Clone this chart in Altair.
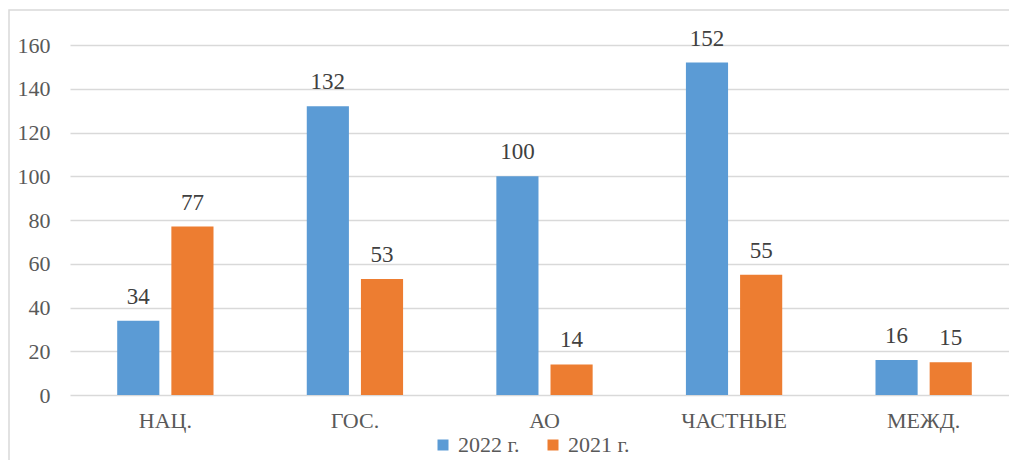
import altair as alt
import pandas as pd

categories = ["НАЦ.", "ГОС.", "АО", "ЧАСТНЫЕ", "МЕЖД."]
series_names = ["2022 г.", "2021 г."]
values_2022 = [34, 132, 100, 152, 16]
values_2021 = [77, 53, 14, 55, 15]
series_colors = ["#5B9BD5", "#ED7D31"]
y_ticks = [0, 20, 40, 60, 80, 100, 120, 140, 160]

rows = []
for c, a, b in zip(categories, values_2022, values_2021):
    rows.append({"cat": c, "series": series_names[0], "value": a})
    rows.append({"cat": c, "series": series_names[1], "value": b})
df = pd.DataFrame(rows)

FONT = "Liberation Serif"

x_enc = alt.X("cat:N", sort=categories, title=None,
              scale=alt.Scale(paddingInner=0.492, paddingOuter=0.249, range=[0, 949]),
              axis=alt.Axis(labelAngle=0, labelFont=FONT, labelFontSize=22,
                            labelColor="#595959", ticks=False, domain=False,
                            labelPadding=15, grid=False))
xoff = alt.XOffset("series:N", sort=series_names,
                   scale=alt.Scale(paddingInner=0.222, paddingOuter=0))
y_enc = alt.Y("value:Q", title=None,
              scale=alt.Scale(domain=[0, 160], nice=False),
              axis=alt.Axis(values=y_ticks, labelFont=FONT, labelFontSize=22,
                            labelColor="#595959", ticks=False, domain=False,
                            labelPadding=20, gridColor="#D9D9D9", gridWidth=1.5))

base = alt.Chart(df)

bars = base.mark_bar().encode(
    x=x_enc, xOffset=xoff, y=y_enc,
    color=alt.Color("series:N", sort=series_names,
                    scale=alt.Scale(domain=series_names, range=series_colors),
                    legend=alt.Legend(title=None, orient="none", direction="horizontal",
                                      legendX=362, legendY=389,
                                      symbolType="square", symbolSize=121,
                                      symbolStrokeWidth=0, labelFont=FONT,
                                      labelFontSize=22, labelColor="#595959",
                                      columnPadding=22, symbolOffset=0,
                                      labelOffset=4)),
)

labels = base.mark_text(font=FONT, fontSize=23, color="#404040",
                        baseline="alphabetic", dy=-17).encode(
    x=alt.X("cat:N", sort=categories), xOffset=alt.XOffset("series:N", sort=series_names),
    y="value:Q", text="value:Q",
)

frame = alt.Chart(alt.Data(values=[{}])).mark_rect(
    fill=None, stroke="#D9D9D9", strokeWidth=1.5
).encode(x=alt.value(-61), x2=alt.value(1200), y=alt.value(-35), y2=alt.value(700))

chart = alt.layer(frame, bars, labels).properties(
    width=939, height=350,
    autosize=alt.AutoSizeParams(type="none"),
    padding={"left": 62, "top": 37, "right": 0, "bottom": 65},
).configure_view(stroke=None)

chart.save("out.html", embed_options={"renderer": "svg", "actions": False})
